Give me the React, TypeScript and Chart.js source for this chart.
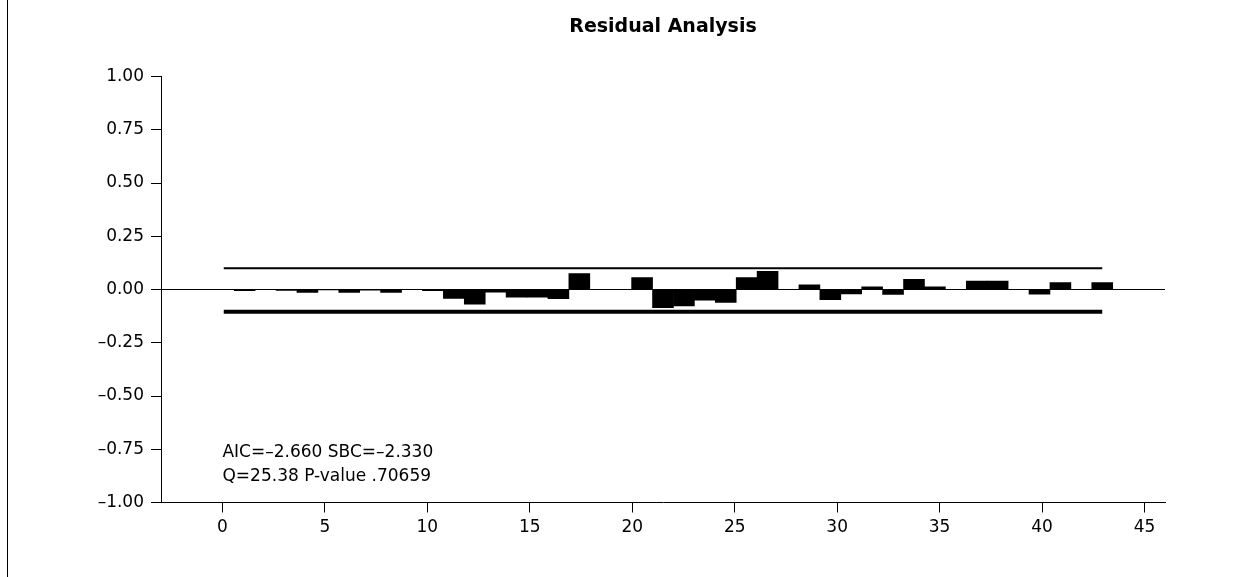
import { useEffect, useRef } from 'react';
import { Chart, registerables } from 'chart.js';

Chart.register(...registerables);

// ---- data ----
const chartTitle = 'Residual Analysis';
const lags = [
  1, 2, 3, 4, 5, 6, 7, 8, 9, 10, 11, 12, 13, 14, 15, 16, 17, 18, 19, 20, 21,
  22, 23, 24, 25, 26, 27, 28, 29, 30, 31, 32, 33, 34, 35, 36, 37, 38, 39, 40, 41, 42,
];
const residualAcf = [
  -0.005, 0, -0.004, -0.014, -0.002, -0.014, -0.003, -0.014, 0, -0.006, -0.042,
  -0.069, -0.013, -0.036, -0.036, -0.043, 0.075, 0, 0, 0.056, -0.085, -0.077,
  -0.05, -0.061, 0.056, 0.085, 0, 0.022, -0.048, -0.021, 0.013, -0.023, 0.048,
  0.013, 0, 0.04, 0.04, 0, -0.022, 0.032, 0, 0.032,
];
const boundLags = [0, 42];
const upperBound = 0.1;
const lowerBound = -0.105;
const zeroLineLags = [-3, 45];
const xTickValues = [0, 5, 10, 15, 20, 25, 30, 35, 40, 45];
const annotationLines = ['AIC=\u20132.660 SBC=\u20132.330', 'Q=25.38 P-value .70659'];
const annotationY = [-0.767, -0.878];

const FONT = '"DejaVu Sans", sans-serif';

const textPlugin = {
  id: 'textPlugin',
  afterDraw(chart: any) {
    const { ctx, chartArea, scales } = chart;
    ctx.save();
    ctx.fillStyle = '#000';
    ctx.fillRect(7, 0, 1, 577);
    ctx.font = `bold 19px ${FONT}`;
    ctx.textAlign = 'center';
    ctx.textBaseline = 'middle';
    ctx.fillText(chartTitle, (chartArea.left + chartArea.right) / 2, 27);
    ctx.font = `17px ${FONT}`;
    ctx.textAlign = 'left';
    const x0 = scales.x.getPixelForValue(0);
    annotationLines.forEach((t, i) => {
      ctx.fillText(t, x0, scales.y.getPixelForValue(annotationY[i]));
    });
    ctx.restore();
  },
};

export default function App() {
  const ref = useRef<HTMLCanvasElement>(null);
  useEffect(() => {
    const chart = new Chart(ref.current as HTMLCanvasElement, {
      type: 'bar',
      data: {
        datasets: [
          {
            type: 'bar',
            data: lags.map((l, i) => ({ x: l, y: residualAcf[i] })),
            backgroundColor: '#000',
            borderWidth: 0,
            barPercentage: 1,
            categoryPercentage: 1,
            xAxisID: 'x2',
            yAxisID: 'y',
          } as any,
          {
            type: 'line',
            data: boundLags.map((x) => ({ x, y: upperBound })),
            borderColor: '#000',
            borderWidth: 2,
            pointRadius: 0,
            fill: false,
            xAxisID: 'x2',
            yAxisID: 'y',
          } as any,
          {
            type: 'line',
            data: boundLags.map((x) => ({ x, y: lowerBound })),
            borderColor: '#000',
            borderWidth: 4,
            pointRadius: 0,
            fill: false,
            xAxisID: 'x2',
            yAxisID: 'y',
          } as any,
          {
            type: 'line',
            data: zeroLineLags.map((x) => ({ x, y: 0 })),
            borderColor: '#000',
            borderWidth: 1,
            pointRadius: 0,
            fill: false,
            xAxisID: 'x2',
            yAxisID: 'y',
          } as any,
        ],
      },
      options: {
        responsive: false,
        animation: false,
        events: [],
        layout: { padding: { left: 0, top: 76.5, right: 88, bottom: 0 } },
        plugins: {
          legend: { display: false },
          tooltip: { enabled: false },
          title: { display: false },
        },
        scales: {
          x: {
            type: 'linear',
            position: 'bottom',
            offset: false,
            min: -3,
            max: 46,
            afterBuildTicks: (s: any) => {
              s.ticks = xTickValues.map((v) => ({ value: v }));
            },
            afterFit: (s: any) => {
              s.height = 74.5;
            },
            ticks: {
              autoSkip: false,
              maxRotation: 0,
              color: '#000',
              padding: 5,
              font: { family: FONT, size: 17 },
              callback: (v: any) => String(v),
            },
            grid: { offset: false, drawOnChartArea: false, tickLength: 10, color: '#000', lineWidth: 1 },
            border: { display: true, color: '#000', width: 1 },
          },
          x2: {
            type: 'linear',
            display: false,
            offset: false,
            grid: { offset: false },
            min: -3,
            max: 45,
          },
          y: {
            type: 'linear',
            min: -1,
            max: 1,
            afterFit: (s: any) => {
              s.width = 161;
            },
            ticks: {
              stepSize: 0.25,
              color: '#000',
              padding: 7,
              font: { family: FONT, size: 17 },
              callback: (v: any) => {
                const n = Number(v);
                return (n < -1e-9 ? '\u2013' : '') + Math.abs(n).toFixed(2);
              },
            },
            grid: { drawOnChartArea: false, tickLength: 10, color: '#000', lineWidth: 1 },
            border: { display: true, color: '#000', width: 1 },
          },
        },
      } as any,
      plugins: [textPlugin],
    });
    return () => chart.destroy();
  }, []);
  return (
    <canvas
      ref={ref}
      width={1253}
      height={577}
      style={{ position: 'fixed', left: 0, top: 0, width: 1253, height: 577 }}
    />
  );
}
